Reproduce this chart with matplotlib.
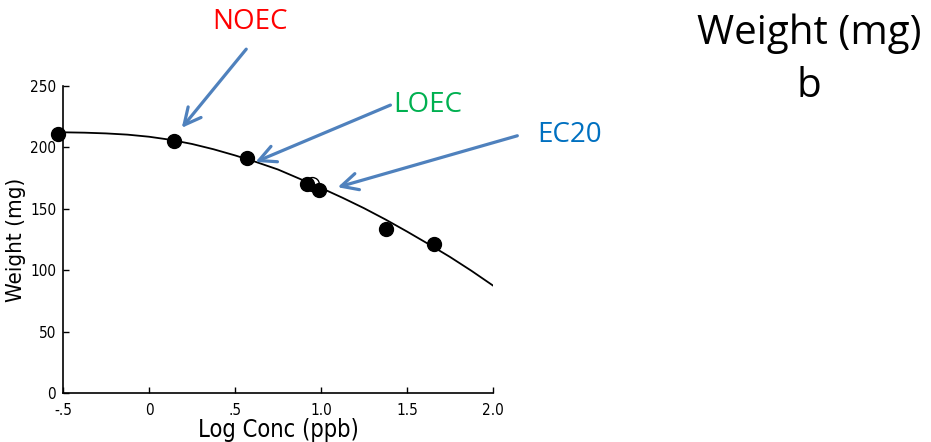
import matplotlib.pyplot as plt
from matplotlib.patches import FancyArrowPatch

# observed points (log conc, weight)
conc = [-0.53, 0.145, 0.57, 0.92, 0.99, 1.38, 1.66]
weight = [211, 205, 191, 170, 165, 133.5, 121]
open_conc = [0.95]
open_weight = [170]

# fitted curve
fit_x = [-0.5, -0.375, -0.25, -0.125, 0.0, 0.125, 0.25, 0.375, 0.5, 0.625, 0.75,
         0.875, 1.0, 1.125, 1.25, 1.375, 1.5, 1.625, 1.75, 1.875, 2.0]
fit_y = [212.3, 212.0, 211.4, 210.4, 208.7, 206.2, 202.8, 198.5, 193.5, 188, 182,
         174.5, 167, 159, 150.5, 141.3, 131.5, 121.3, 110.8, 99.5, 87.5]

xticks = [-0.5, 0, 0.5, 1.0, 1.5, 2.0]
xticklabels = ['-.5', '0', '.5', '1.0', '1.5', '2.0']
yticks = [0, 50, 100, 150, 200, 250]

labels = ['NOEC', 'LOEC', 'EC20']
label_colors = ['#FF0000', '#00B050', '#0070C0']

arrow_col = '#4F81BD'

fig = plt.figure(figsize=(9.31, 4.42), dpi=100)
ax = fig.add_axes([0.0677, 0.1109, 0.4618, 0.6945])

ax.plot(fit_x, fit_y, color='black', lw=1.3, zorder=2)
ax.plot(open_conc, open_weight, 'o', ms=10, mfc='white', mec='black', mew=1, zorder=3)
ax.plot(conc, weight, 'o', ms=10, color='black', zorder=4, clip_on=False)

ax.set_xlim(-0.5, 2.0)
ax.set_ylim(0, 250)
ax.set_xticks(xticks)
ax.set_xticklabels(xticklabels)
ax.set_yticks(yticks)
for s in ['top', 'right']:
    ax.spines[s].set_visible(False)
for s in ['left', 'bottom']:
    ax.spines[s].set_linewidth(1.2)
ax.tick_params(direction='in', length=4, width=1, labelsize=11)
ax.tick_params(axis='x', pad=7)
ax.tick_params(axis='y', pad=5)
for t in ax.get_xticklabels() + ax.get_yticklabels():
    t.set_family('DejaVu Sans')
    t.set_stretch('condensed')
ax.set_xlabel('Log Conc (ppb)', fontsize=17, family='DejaVu Sans',
              stretch='condensed', labelpad=0)
ax.set_ylabel('Weight (mg)', fontsize=16, family='DejaVu Sans',
              stretch='condensed', labelpad=3)

# arrows and labels placed in figure pixels
W, H = 931.0, 442.0
arrows = [((248, 47), (180, 130)), ((393, 104), (253, 163)), ((520, 135), (335, 188))]
text_pos = [(250, 22), (428, 105), (570, 135)]
for (tail, tip), lab, col, tp in zip(arrows, labels, label_colors, text_pos):
    fig.add_artist(FancyArrowPatch(
        (tail[0] / W, 1 - tail[1] / H), (tip[0] / W, 1 - tip[1] / H),
        transform=fig.transFigure, arrowstyle='->,head_length=12,head_width=6',
        color=arrow_col, lw=2.3, mutation_scale=1))
    fig.text(tp[0] / W, 1 - tp[1] / H, lab, color=col, fontsize=20,
             family='Open Sans', ha='center', va='center')

fig.text(809 / W, 1 - 34 / H, 'Weight (mg)', fontsize=29, family='Open Sans',
         ha='center', va='center')
fig.text(809 / W, 1 - 87 / H, 'b', fontsize=29, family='Open Sans',
         ha='center', va='center')

fig.savefig('out.png', dpi=100)
